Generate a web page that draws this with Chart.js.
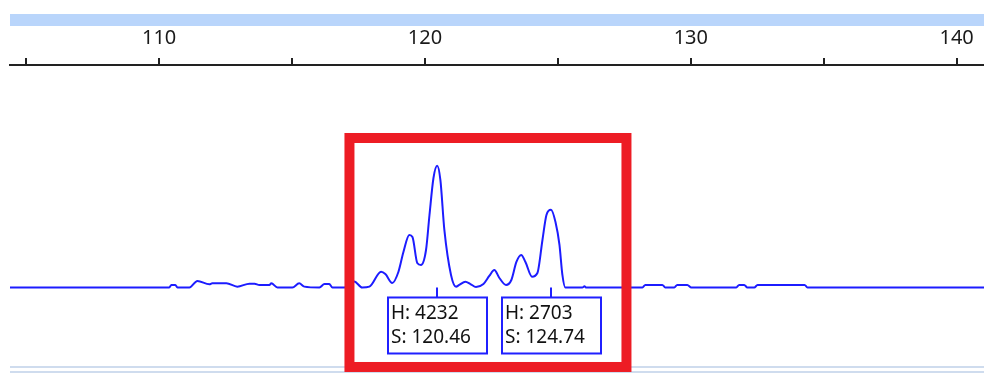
<!DOCTYPE html>
<html>
<head>
<meta charset="utf-8">
<script src="https://cdn.jsdelivr.net/npm/chart.js@4.4.1/dist/chart.umd.min.js"></script>
<style>
  html, body { margin: 0; padding: 0; background: #fff; }
  canvas { display: block; }
</style>
</head>
<body>
<canvas id="trace" width="984" height="374"></canvas>
<script>
const sizes = [104.39, 110.38, 110.46, 110.61, 110.69, 111.14, 111.44, 111.89, 112.0, 112.53,
  112.94, 113.40, 113.59, 113.77, 114.15, 114.22, 114.45, 115.01, 115.27, 115.46,
  116.03, 116.22, 116.40, 116.52, 116.97, 117.34, 117.64, 117.91, 118.35, 118.51,
  118.77, 119.0, 119.19, 119.41, 119.53, 119.71, 119.85, 120.04, 120.17, 120.32,
  120.46, 120.58, 120.73, 120.98, 121.17, 121.29, 121.52, 121.71, 121.92, 122.20,
  122.42, 122.61, 122.80, 123.05, 123.25, 123.44, 123.62, 123.78, 124.03, 124.23,
  124.42, 124.57, 124.74, 124.91, 125.06, 125.17, 125.28, 125.92, 126.0, 126.07,
  128.18, 128.29, 128.93, 129.04, 129.38, 129.49, 129.87, 130.02, 131.71, 131.82,
  132.01, 132.13, 132.39, 132.51, 134.28, 134.39, 141.03];
const heights = [0, 0, 87, 87, 0, 0, 226, 111, 146, 146,
  30, 132, 132, 87, 87, 146, 0, 0, 146, 30,
  0, 120, 120, 0, 0, 210, 0, 30, 549, 470,
  156, 539, 1234, 1825, 1756, 852, 782, 1304, 2521, 3807,
  4232, 3738, 2000, 435, 28, 87, 200, 120, 17, 120,
  400, 608, 330, 87, 260, 887, 1130, 887, 375, 504,
  1652, 2521, 2703, 2277, 1478, 435, 0, 0, 40, 0,
  0, 87, 87, 0, 0, 87, 87, 0, 0, 87,
  87, 0, 0, 87, 87, 0, 0];

// pics annotés
const peakSizes = [120.46, 124.74];
const peakHeights = [4232, 2703];

// zone surlignée en rouge (taille / hauteur)
const boxRange = { x0: 117.16, x1: 127.58, y0: -2764, y1: 5198 };

const FONT = '"Noto Sans", "DejaVu Sans", sans-serif';

// Décor : bandeau bleu, lignes du bas, cadre rouge, étiquettes des pics
const decor = {
  id: 'decor',
  beforeDraw(chart) {
    const ctx = chart.ctx;
    const { left, right } = chart.chartArea;
    ctx.save();
    ctx.fillStyle = '#b9d5fb';
    ctx.fillRect(left, 14, right - left, 12);
    ctx.fillStyle = '#cfdcee';
    ctx.fillRect(left, 366, right - left, 2);
    ctx.fillRect(left, 371, right - left, 2);
    ctx.restore();
  },
  afterDatasetsDraw(chart) {
    const ctx = chart.ctx;
    const x = chart.scales.x, y = chart.scales.y;
    ctx.save();

    // cadre rouge
    ctx.strokeStyle = '#ed1c24';
    ctx.lineWidth = 10;
    const bx0 = x.getPixelForValue(boxRange.x0), bx1 = x.getPixelForValue(boxRange.x1);
    const by0 = y.getPixelForValue(boxRange.y1), by1 = y.getPixelForValue(boxRange.y0);
    ctx.strokeRect(bx0, by0, bx1 - bx0, by1 - by0);

    // étiquettes H / S
    const base = y.getPixelForValue(0);
    ctx.strokeStyle = '#2020ff';
    ctx.lineWidth = 2;
    ctx.font = '19px ' + FONT;
    ctx.textBaseline = 'alphabetic';
    peakSizes.forEach((s, i) => {
      const px = Math.round(x.getPixelForValue(s));
      ctx.beginPath();
      ctx.moveTo(px, base);
      ctx.lineTo(px, base + 10);
      ctx.stroke();
      const l = px - 49, t = base + 10;
      ctx.fillStyle = '#fff';
      ctx.fillRect(l, t, 99, 56);
      ctx.strokeRect(l, t, 99, 56);
      ctx.fillStyle = '#111';
      ctx.fillText('H: ' + peakHeights[i], l + 3, t + 22);
      ctx.fillText('S: ' + s.toFixed(2), l + 3, t + 46);
    });
    ctx.restore();
  }
};

new Chart(document.getElementById('trace'), {
  type: 'line',
  data: {
    labels: sizes,
    datasets: [{
      data: sizes.map((s, i) => ({ x: s, y: heights[i] })),
      borderColor: '#1c1cff',
      borderWidth: 2,
      pointRadius: 0,
      fill: false,
      cubicInterpolationMode: 'monotone'
    }]
  },
  options: {
    responsive: false,
    animation: false,
    devicePixelRatio: 1,
    layout: { padding: { left: 10, right: 0, top: 26, bottom: 0 } },
    plugins: { legend: { display: false }, tooltip: { enabled: false } },
    scales: {
      x: {
        type: 'linear',
        position: 'top',
        min: 104.39,
        max: 141.03,
        afterFit: scale => { scale.height = 39; },
        grid: { drawOnChartArea: false, tickLength: 7, color: '#222', lineWidth: 2 },
        border: { color: '#222', width: 2 },
        ticks: {
          stepSize: 5,
          includeBounds: false,
          maxRotation: 0,
          padding: 8,
          color: '#1a1a1a',
          font: { family: FONT, size: 20 },
          callback: v => (v % 10 === 0 ? String(v) : '')
        }
      },
      y: { display: false, min: -3008, max: 7736 }
    }
  },
  plugins: [decor]
});
</script>
</body>
</html>
